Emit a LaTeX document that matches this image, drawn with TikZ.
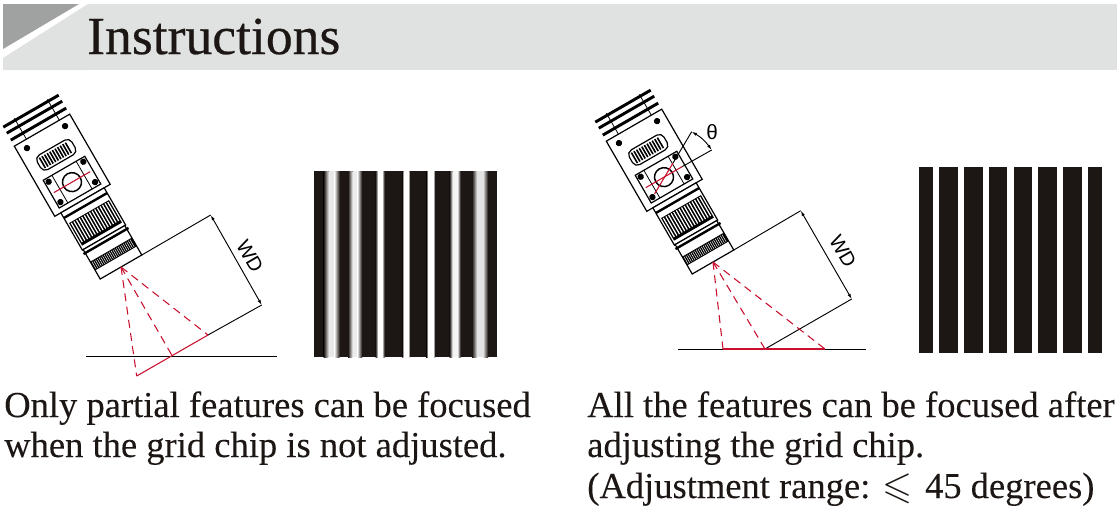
\documentclass[tikz,border=0pt]{standalone}
\usepackage{amssymb}
\usepackage{fontspec}
\setmainfont{Liberation Serif}
\newfontfamily\dimfont{Liberation Sans}
\newfontfamily\capfont[FakeBold=0.12]{Liberation Serif}
\newfontfamily\headfont[FakeBold=0.45]{Liberation Serif}
\usetikzlibrary{arrows.meta,positioning,calc}
\definecolor{BandG}{HTML}{E0E2E1}
\definecolor{CornerG}{HTML}{A0A2A1}
\definecolor{StripeK}{HTML}{1C1714}
\definecolor{FocusR}{HTML}{C8102E}
\tikzset{
  outline/.style={draw=black, line width=0.9pt},
  thinline/.style={draw=black, line width=0.6pt},
  finline/.style={draw=black, line width=2.2pt},
  focusline/.style={draw=FocusR, line width=0.8pt},
  raydash/.style={draw=FocusR, line width=0.8pt, dash pattern=on 6pt off 4pt},
  dimline/.style={draw=black, line width=0.7pt},
  dimarrow/.style={dimline, {Latex[length=4pt,width=2.4pt]}-{Latex[length=4pt,width=2.4pt]}},
  caption/.style={anchor=base west, inner sep=0pt, font=\capfont\fontsize{27.4}{30}\selectfont, text=StripeK},
  dimlabel/.style={inner sep=0pt, font=\dimfont\fontsize{15}{15}\selectfont}
}
% camera, drawn around the middle of the lens front
\newcommand{\camerabody}{%
  % fins
  \foreach \ww in {-180,-173,-165}{
    \draw[finline] (-32,\ww) -- (32,\ww);
  }
  \draw[thinline] (-18,-182) -- (-18,-157);
  \draw[thinline] (20,-182) -- (20,-157);
  % housing
  \draw[outline, fill=white] (-32,-158) rectangle (32,-77);
  \foreach \uu/\ww in {-22/-150,22/-150,-20/-110,20/-110,-20/-86.5,20/-86.5}{
    \fill (\uu,\ww) circle (3.2);
  }
  % vent
  \draw[outline, rounded corners=4] (-20,-138) rectangle (20,-121);
  \foreach \uu in {-16,-13,...,16}{
    \draw[draw=black, line width=1.2pt] (\uu,-135.5) -- (\uu,-123.5);
  }
  % plate
  \draw[outline] (-24,-114) rectangle (24,-82);
  \draw[thinline] (-14,-114) -- (-14,-82);
  \draw[thinline] (14,-114) -- (14,-82);
  \draw[draw=black, line width=1.1pt] (0,-98) circle (9.5);
  % collar
  \draw[outline, fill=white] (-25,-77) rectangle (25,-34);
  \draw[draw=black, line width=1.8pt] (-25,-71) -- (25,-71);
  % upper knurl
  \fill[black] (-23,-64) rectangle (23,-38);
  \foreach \uu in {-21,-18,...,21}{
    \draw[draw=white, line width=0.9pt] (\uu,-63) -- (\uu,-41);
  }
  % front ring
  \draw[outline, fill=white] (-24,-34) rectangle (24,0);
  \draw[draw=black, line width=1.8pt] (-26,-30) -- (26,-30);
  \fill[black] (-24,-20) rectangle (24,-10);
  \foreach \uu in {-22.5,-20.5,...,22.5}{
    \draw[draw=white, line width=0.35pt] (\uu,-19) -- (\uu,-11);
  }
}
\begin{document}
\begin{tikzpicture}[x=0.75pt,y=-0.75pt]
  \useasboundingbox (0,0) rectangle (1120,511);

  %% title band
  \fill[BandG] (3,4) rectangle (1117,70);
  \fill[white] (3,4) rectangle (88,58);
  \fill[BandG] (88,4) -- (3,58) -- (3,70) -- (88,70) -- cycle;
  \fill[CornerG] (3,4) -- (79,4) -- (3,49) -- cycle;
  \node[anchor=base west, inner sep=0pt, font=\headfont\fontsize{40.2}{40}\selectfont, text=StripeK]
    (title) at (87,54) {Instructions};

  %% left camera
  \begin{scope}[shift={(121,267)}, rotate=30]
    \camerabody
    \draw[focusline] (-21,-98) -- (21,-98);
    \coordinate (lensL) at (24,0);
    \coordinate (apexL) at (0,0);
  \end{scope}
  \coordinate (dimLa) at (210.7,215);
  \coordinate (dimLb) at (261.7,305);
  \coordinate (tiltLa) at (208,335);
  \coordinate (tiltLm) at (172.3,356);
  \coordinate (tiltLb) at (136.7,376);
  \draw[dimline] (lensL) -- (dimLa);
  \draw[dimarrow] (dimLa) -- (dimLb);
  \draw[dimline] (dimLb) -- (tiltLa);
  \draw[dimline] (86,356) -- (277,356);
  \draw[focusline] (tiltLa) -- (tiltLb);
  \foreach \ee in {tiltLa,tiltLm,tiltLb}{
    \draw[raydash] (apexL) -- (\ee);
  }
  \node[dimlabel, rotate=-60] (wdL) at (250,256) {WD};

  %% blurred stripes
  \fill[StripeK] (314,171) rectangle (497,357);
  \foreach \cc/\pp/\rr/\gg in {331.7/3/5/90,355/2.5/4.5/92,380/2/2.5/100,406/2.5/1.2/100,
                              430.7/2.5/2/100,455/2.5/3/95,480/3/5/88}{
    \fill[white!\gg!StripeK] (\cc-\pp,171) rectangle (\cc+\pp,357);
    \shade[left color=StripeK, right color=white!\gg!StripeK]
      (\cc-\pp-\rr,171) rectangle (\cc-\pp,357);
    \shade[left color=white!\gg!StripeK, right color=StripeK]
      (\cc+\pp,171) rectangle (\cc+\pp+\rr,357);
  }

  %% right camera
  \begin{scope}[shift={(713,262)}, rotate=30]
    \camerabody
    \draw[focusline] (-21,-98) -- (21,-98);
    \coordinate (lensR) at (24,0);
    \coordinate (apexR) at (0,0);
    \coordinate (markR) at (21,-98);
  \end{scope}
  \coordinate (dimRa) at (800.7,210.7);
  \coordinate (dimRb) at (851.7,299);
  \coordinate (footR) at (765,349);
  \coordinate (spanRa) at (723,349);
  \coordinate (spanRb) at (825,349);
  \coordinate (pivotR) at (654.5,194);
  \coordinate (tiltR) at (673,163);
  \coordinate (thetaRa) at (691.7,131.7);
  \coordinate (thetaRb) at (711.7,150);
  \draw[dimline] (lensR) -- (dimRa);
  \draw[dimarrow] (dimRa) -- (dimRb);
  \draw[dimline] (dimRb) -- (footR);
  \draw[dimline] (678,349) -- (723,349);
  \draw[dimline] (825,349) -- (866,349);
  \draw[focusline] (spanRa) -- (spanRb);
  \foreach \ee in {spanRa,footR,spanRb}{
    \draw[raydash] (apexR) -- (\ee);
  }
  \draw[focusline] (pivotR) -- (tiltR);
  \draw[dimline] (tiltR) -- (thetaRa);
  \draw[dimline] (markR) -- (thetaRb);
  \draw[dimarrow] (thetaRa) to[bend left=12] (thetaRb);
  \node[dimlabel, font=\dimfont\fontsize{15.5}{15.5}\selectfont] (thetaL) at (712,132) {θ};
  \node[dimlabel, rotate=-60] (wdR) at (843,251) {WD};

  %% sharp stripes
  \foreach \xa/\xb in {919/933.3,939/958,964/983,989/1007,1014/1032,1038/1057,1063/1082,1088/1102}{
    \fill[StripeK] (\xa,167) rectangle (\xb,353);
  }

  %% captions
  \node[caption] (capLa) at (4,417) {Only partial features can be focused};
  \node[caption] (capLb) at (4,457) {when the grid chip is not adjusted.};
  \node[caption] (capRa) at (587,417) {All the features can be focused after};
  \node[caption] (capRb) at (587,457) {adjusting the grid chip.};
  \node[caption] (capRc) at (587,498) {(Adjustment range:\hspace{9pt}{\fontsize{29}{29}\selectfont$\leqslant$}\hspace{9.5pt}45 degrees)};
\end{tikzpicture}
\end{document}
